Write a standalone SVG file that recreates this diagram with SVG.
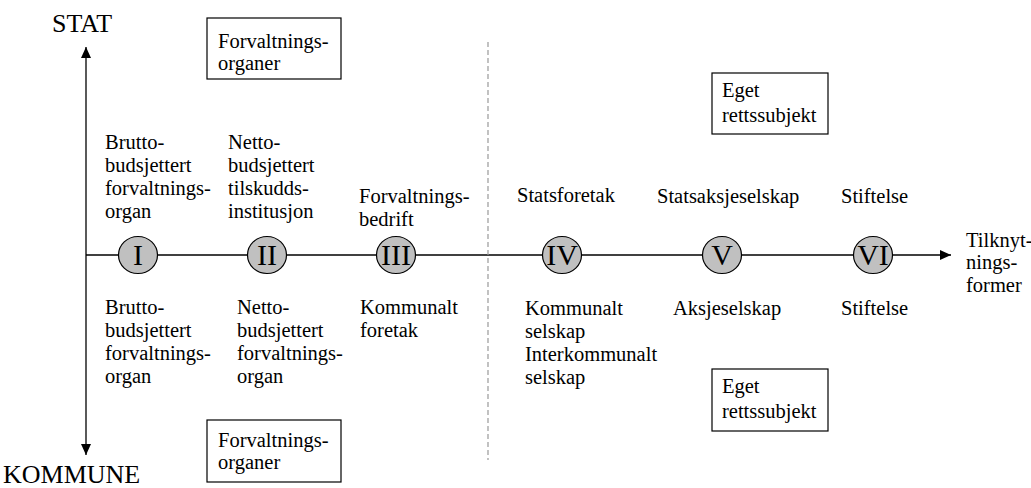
<svg xmlns="http://www.w3.org/2000/svg" width="1031" height="488" viewBox="0 0 1031 488" font-family="'Liberation Serif', 'Times New Roman', serif">
<defs>
<style>
text{font-family:'Liberation Serif','Times New Roman',serif;fill:#000}
.t{font-size:20.5px}
.big{font-size:26px}
.num{font-size:30px;text-anchor:middle}
.ax{stroke:#000;stroke-width:1.3;fill:none}
.c{fill:#c0c0c0;stroke:#000;stroke-width:1.2}
.box{fill:#fff;stroke:#000;stroke-width:1.2}
.dash{stroke:#999;stroke-width:1.2;stroke-dasharray:5,3;fill:none}
</style>
<marker id="ah" viewBox="0 0 11 10" refX="11" refY="5" markerWidth="11" markerHeight="10" markerUnits="userSpaceOnUse" orient="auto">
<path d="M0,0 L11,5 L0,10 Z" fill="#000"/>
</marker>
</defs>
<rect width="1031" height="488" fill="#fff"/>
<g id="connectors">
<line class="ax" x1="86" y1="255" x2="86" y2="47" marker-end="url(#ah)"/>
<line class="ax" x1="86" y1="255" x2="86" y2="455" marker-end="url(#ah)"/>
<line class="ax" x1="86" y1="255" x2="951" y2="255" marker-end="url(#ah)"/>
<line class="dash" x1="488" y1="42" x2="488" y2="460"/>
</g>
<g id="axis-labels">
<text class="big" x="52" y="32">STAT</text>
<text class="big" x="3" y="483">KOMMUNE</text>
<text class="t"><tspan x="966" y="247">Tilknyt-</tspan><tspan x="966" y="269">nings-</tspan><tspan x="966" y="292">former</tspan></text>
</g>
<g id="box-forv-top">
<rect class="box" x="207" y="18" width="134" height="61"/>
<text class="t"><tspan x="218" y="48">Forvaltnings-</tspan><tspan x="218" y="70">organer</tspan></text>
</g>
<g id="box-forv-bottom">
<rect class="box" x="207" y="420" width="134" height="62"/>
<text class="t"><tspan x="218" y="447">Forvaltnings-</tspan><tspan x="218" y="469">organer</tspan></text>
</g>
<g id="box-eget-top">
<rect class="box" x="712" y="73" width="116" height="61"/>
<text class="t"><tspan x="722" y="97">Eget</tspan><tspan x="722" y="122">rettssubjekt</tspan></text>
</g>
<g id="box-eget-bottom">
<rect class="box" x="712" y="369" width="116" height="62"/>
<text class="t"><tspan x="722" y="393">Eget</tspan><tspan x="722" y="418">rettssubjekt</tspan></text>
</g>
<g id="node-I">
<ellipse class="c" cx="138" cy="255" rx="19.5" ry="18.5"/>
<text class="num" x="138" y="265">I</text>
<text class="t"><tspan x="105" y="149">Brutto-</tspan><tspan x="105" y="172">budsjettert</tspan><tspan x="105" y="195">forvaltnings-</tspan><tspan x="105" y="218">organ</tspan></text>
<text class="t"><tspan x="105" y="314">Brutto-</tspan><tspan x="105" y="337">budsjettert</tspan><tspan x="105" y="360">forvaltnings-</tspan><tspan x="105" y="383">organ</tspan></text>
</g>
<g id="node-II">
<ellipse class="c" cx="267" cy="255" rx="19.5" ry="18.5"/>
<text class="num" x="267" y="265">II</text>
<text class="t"><tspan x="228" y="149">Netto-</tspan><tspan x="228" y="172">budsjettert</tspan><tspan x="228" y="195">tilskudds-</tspan><tspan x="228" y="218">institusjon</tspan></text>
<text class="t"><tspan x="237" y="314">Netto-</tspan><tspan x="237" y="337">budsjettert</tspan><tspan x="237" y="360">forvaltnings-</tspan><tspan x="237" y="383">organ</tspan></text>
</g>
<g id="node-III">
<ellipse class="c" cx="396" cy="255" rx="19.5" ry="18.5"/>
<text class="num" x="396" y="265">III</text>
<text class="t"><tspan x="359" y="203">Forvaltnings-</tspan><tspan x="359" y="226">bedrift</tspan></text>
<text class="t"><tspan x="360" y="314">Kommunalt</tspan><tspan x="360" y="337">foretak</tspan></text>
</g>
<g id="node-IV">
<ellipse class="c" cx="562" cy="255" rx="19.5" ry="18.5"/>
<text class="num" x="562" y="265">IV</text>
<text class="t" x="517" y="202">Statsforetak</text>
<text class="t"><tspan x="525" y="315">Kommunalt</tspan><tspan x="525" y="338">selskap</tspan><tspan x="525" y="361">Interkommunalt</tspan><tspan x="525" y="384">selskap</tspan></text>
</g>
<g id="node-V">
<ellipse class="c" cx="722" cy="255" rx="19.5" ry="18.5"/>
<text class="num" x="722" y="265">V</text>
<text class="t" x="657" y="203">Statsaksjeselskap</text>
<text class="t" x="673" y="315">Aksjeselskap</text>
</g>
<g id="node-VI">
<ellipse class="c" cx="873" cy="255" rx="19.5" ry="18.5"/>
<text class="num" x="873" y="265">VI</text>
<text class="t" x="841" y="203">Stiftelse</text>
<text class="t" x="841" y="315">Stiftelse</text>
</g>
</svg>
